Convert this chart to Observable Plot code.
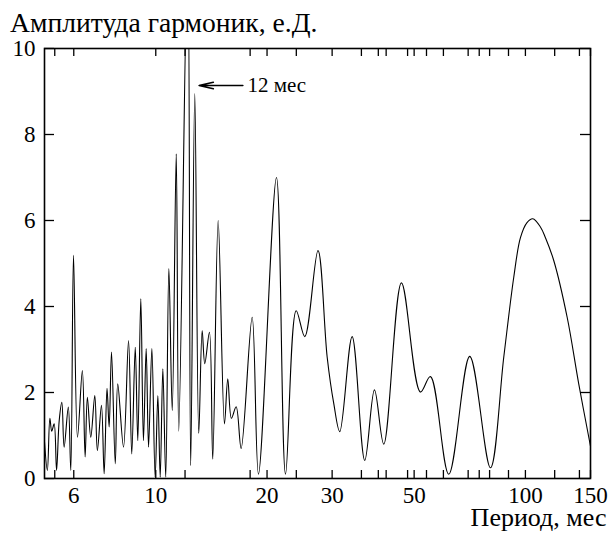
<!DOCTYPE html>
<html>
<head>
<meta charset="utf-8">
<script src="https://cdn.jsdelivr.net/npm/d3@7"></script>
<script src="https://cdn.jsdelivr.net/npm/@observablehq/plot@0.6"></script>
<style>
  body { margin: 0; background: white; }
  #title { height: 28px; font-family: "Liberation Serif", "Times New Roman", serif; font-size: 27.6px; line-height: 28px; padding-left: 10px; white-space: nowrap; position: relative; z-index: 2; }
  #title span { position: relative; top: 9px; }
</style>
</head>
<body>
<div id="title"><span>Амплитуда гармоник, е.Д.</span></div>
<div id="chart"></div>
<script>
const titleText = "Амплитуда гармоник, е.Д.";
const xLabelText = "Период, мес";

// Period (months) and harmonic amplitude
const periods = [5.00, 5.09, 5.17, 5.23, 5.31, 5.39, 5.48, 5.57, 5.65, 5.80, 5.89, 5.99, 6.14, 6.33, 6.44, 6.53, 6.67, 6.84, 6.95, 7.13, 7.25, 7.38, 7.48, 7.59, 7.77, 7.89, 8.18, 8.44, 8.61, 8.80, 8.94, 9.11, 9.26, 9.42, 9.56, 9.76, 9.96, 10.13, 10.28, 10.45, 10.64, 10.85, 11.08, 11.36, 11.54, 12.20, 12.43, 12.75, 13.07, 13.35, 13.57, 13.97, 14.26, 14.75, 15.34, 15.66, 16.02, 16.50, 17.02, 18.23, 18.96, 21.21, 22.44, 23.98, 25.30, 27.47, 29.09, 30.31, 31.46, 33.98, 36.76, 39.05, 41.38, 46.20, 52.00, 55.34, 62.03, 70.69, 80.43, 87.38, 93.00, 96.96, 101.0, 104.7, 109.8, 113.3, 119.3, 129.7, 139.4, 150];
const amplitudes = [0.85, 0.19, 1.4, 1.1, 1.27, 0.19, 1.35, 1.77, 0.73, 1.66, 0.19, 5.19, 0.96, 2.51, 0.5, 1.89, 0.96, 1.93, 0.65, 1.7, 0.11, 2.1, 1.2, 2.94, 0.34, 2.2, 0.73, 3.21, 0.57, 3.05, 0.88, 4.18, 0.88, 3.02, 0.73, 3.02, 0.03, 1.93, 0.03, 2.55, 0.03, 4.88, 1.58, 7.55, 1.1, 12.5, 0.3, 8.95, 1.05, 3.44, 2.67, 3.4, 0.45, 6.0, 1.27, 2.32, 1.4, 1.67, 0.7, 3.75, 0.1, 7.0, 0.1, 3.9, 3.3, 5.3, 2.82, 1.74, 1.09, 3.3, 0.42, 2.06, 0.8, 4.55, 2.01, 2.37, 0.1, 2.84, 0.25, 2.82, 4.68, 5.6, 5.95, 6.04, 5.85, 5.6, 5.07, 3.75, 2.2, 0.75];

const xTickValues = [5.33, 6, 10, 12, 18, 20, 24, 30, 36, 40, 42, 48, 50, 54, 60, 70, 75, 80, 90, 100, 120, 140, 150];
const xTickLabels = [6, 10, 20, 30, 50, 75, 100, 150];
const yTickValues = [0, 2, 4, 6, 8, 10];

// annotation "12 мес"
const annoText = ["12 мес"];
const annoFromPeriod = [17.2];
const annoToPeriod = [13.1];
const annoTextPeriod = [17.7];
const annoAmp = [9.14];

const data = periods.map((p, i) => ({period: p, amp: amplitudes[i]}));
const anno = annoText.map((t, i) => ({text: t, x1: annoFromPeriod[i], x2: annoToPeriod[i], xt: annoTextPeriod[i], y: annoAmp[i]}));

const W = 613, H = 509;
const mL = 44, mR = 23, mT = 20, mB = 59;
const fw = W - mL - mR, fh = H - mT - mB;
const serif = "'Liberation Serif', 'Times New Roman', serif";

const chart = Plot.plot({
  width: W,
  height: H,
  marginLeft: mL,
  marginRight: mR,
  marginTop: mT,
  marginBottom: mB,
  style: {fontFamily: serif, fontSize: "22px", background: "transparent", overflow: "visible", color: "black"},
  x: {type: "log", domain: [5, 150]},
  y: {domain: [0, 10]},
  marks: [
    Plot.line(data, {x: "period", y: "amp", curve: "catmull-rom", stroke: "black", strokeWidth: 1.1, clip: true}),
    Plot.frame({stroke: "black", strokeWidth: 1.6}),
    Plot.ruleX(xTickValues, {x: d => d, insetTop: fh - 8, stroke: "black", strokeWidth: 1.3}),
    Plot.ruleX(xTickValues, {x: d => d, insetBottom: fh - 8, stroke: "black", strokeWidth: 1.3}),
    Plot.ruleY(yTickValues, {y: d => d, insetRight: fw - 10, stroke: "black", strokeWidth: 1.3}),
    Plot.ruleY(yTickValues, {y: d => d, insetLeft: fw - 10, stroke: "black", strokeWidth: 1.3}),
    Plot.axisX({anchor: "bottom", ticks: xTickLabels, tickSize: 0, tickPadding: 8, tickFormat: d => String(d), fontSize: 23, fontFamily: serif, label: null}),
    Plot.axisY({anchor: "left", ticks: yTickValues, tickSize: 0, tickPadding: 9, tickFormat: d => String(d), fontSize: 23, fontFamily: serif, label: null}),
    Plot.text([xLabelText], {frameAnchor: "bottom-right", dx: 16, dy: 29, lineAnchor: "top", textAnchor: "end", fontSize: 26, fontFamily: serif, fill: "black"}),
    Plot.arrow(anno, {x1: "x1", x2: "x2", y1: "y", y2: "y", stroke: "black", strokeWidth: 1.6, headLength: 15, headAngle: 26}),
    Plot.text(anno, {x: "xt", y: "y", text: "text", textAnchor: "start", fontSize: 21, fontFamily: serif, fill: "black"})
  ]
});
document.getElementById("chart").appendChild(chart);
</script>
</body>
</html>
